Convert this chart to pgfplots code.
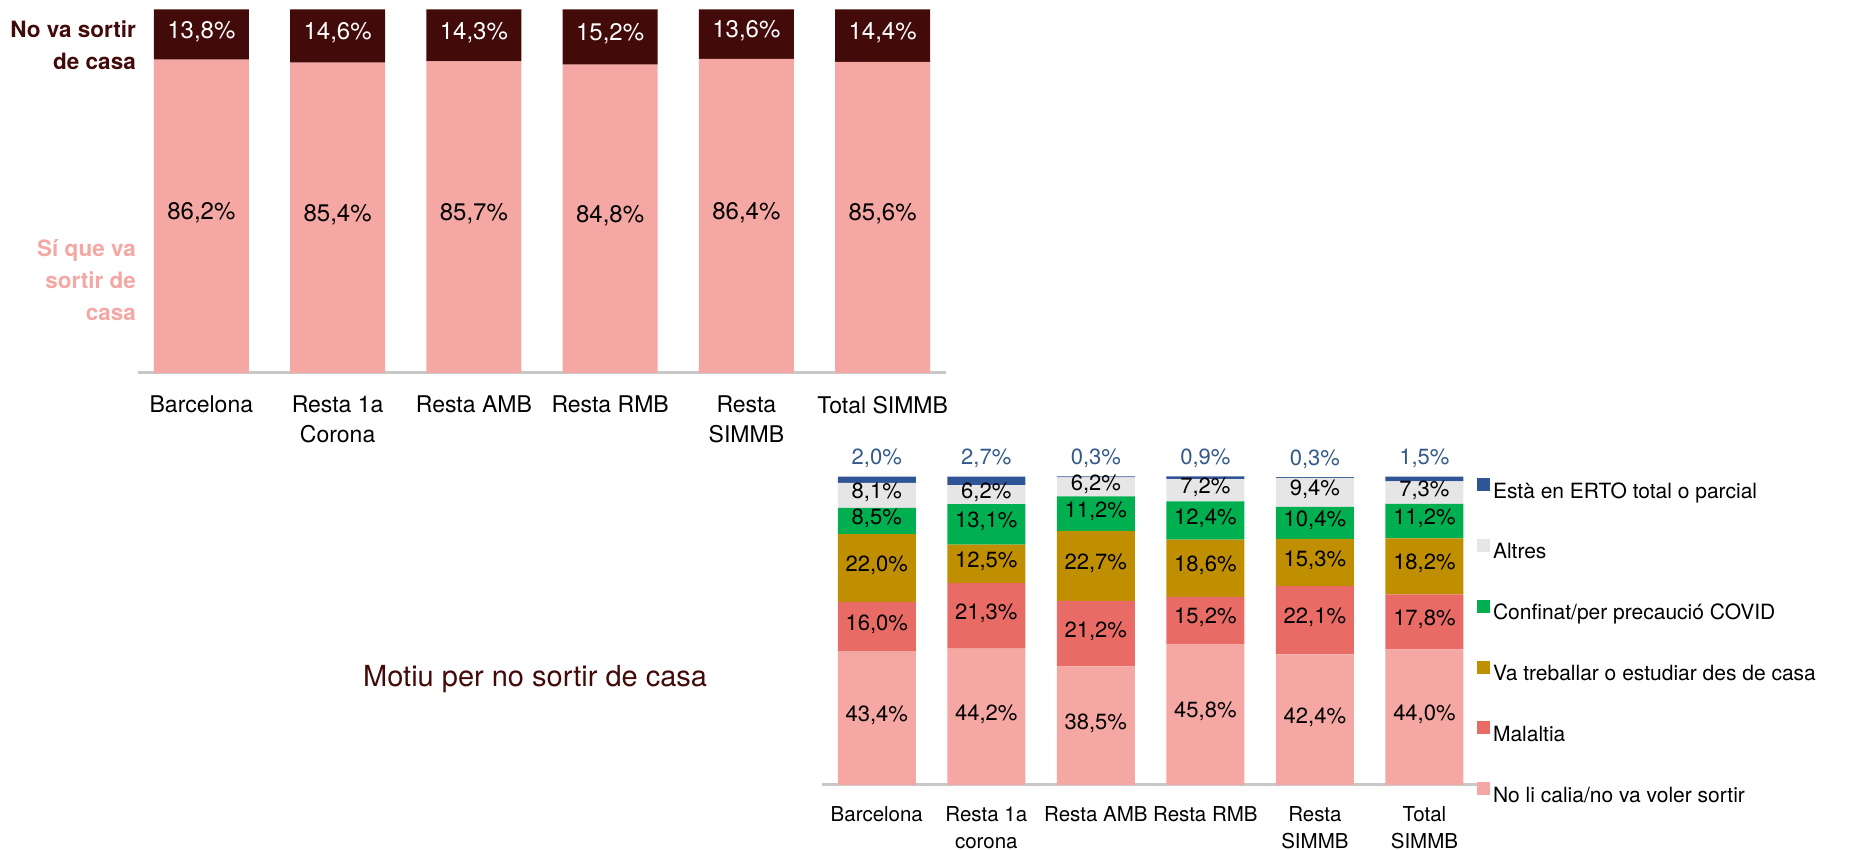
\documentclass[border=0pt]{standalone}
\usepackage{fontspec}
\setmainfont{TeX Gyre Heros}
\usepackage{pgfplots}
\pgfplotsset{compat=1.18}
\usepackage{pgfplotstable}
\definecolor{cMaroon}{HTML}{420B09}
\definecolor{cPink}{HTML}{F4A7A3}
\definecolor{cRed}{HTML}{E86C65}
\definecolor{cGold}{HTML}{BF8F00}
\definecolor{cGreen}{HTML}{00B050}
\definecolor{cGrey}{HTML}{E7E6E6}
\definecolor{cBlue}{HTML}{2F5597}
\definecolor{cBlueTxt}{HTML}{34598A}
\definecolor{cAxis}{HTML}{C8C8C8}

\pgfplotstableread{
x si no
0 86.2 13.8
1 85.4 14.6
2 85.7 14.3
3 84.8 15.2
4 86.4 13.6
5 85.6 14.4
}\topdata

\pgfplotstableread{
x calia mal treb conf altres erto
0 43.4 16.0 22.0 8.5 8.1 2.0
1 44.2 21.3 12.5 13.1 6.2 2.7
2 38.5 21.2 22.7 11.2 6.2 0.3
3 45.8 15.2 18.6 12.4 7.2 0.9
4 42.4 22.1 15.3 10.4 9.4 0.3
5 44.0 17.8 18.2 11.2 7.3 1.5
}\botdata

\newcommand{\pct}{\pgfmathprintnumber[fixed,fixed zerofill,precision=1,use comma,assume math mode=true]{\pgfplotspointmeta}\%}

\pgfplotsset{
  mystack/.style={
    ybar stacked, scale only axis, ymin=0, ymax=100,
    axis x line=bottom, axis y line=none,
    x axis line style={draw=cAxis, line width=3pt, -},
    xtick={0,...,5}, major tick length=0pt, ytick=\empty,
    clip=false,
    xticklabel style={align=center, inner sep=0pt, anchor=north, text=black},
  },
  mylabels/.style={
    scale only axis, ymin=0, ymax=100, hide axis, clip=false,
    nodes near coords=\pct,
    every node near coord/.append style={anchor=center, inner sep=0pt, text depth=0pt, text height=0.71em},
  },
  lab/.style={draw=none, mark=none, point meta=\thisrow{#1}},
}

\begin{document}
\begin{tikzpicture}
\path[use as bounding box] (0pt,0pt) rectangle (1854pt,850pt);

% ---------- top chart ----------
\begin{axis}[mystack,
  at={(138pt,477pt)}, anchor=south west,
  width=808pt, height=363.5pt,
  xmin=-0.465, xmax=5.465,
  bar width=95pt,
  xticklabels={Barcelona,{Resta 1a\\Corona},Resta AMB,Resta RMB,{Resta\\SIMMB},Total SIMMB},
  xticklabel style={font=\fontsize{23}{30}\selectfont, yshift=-23pt},
]
\addplot[fill=cPink, draw=none] table[x=x,y=si]{\topdata};
\addplot[fill=cMaroon, draw=none] table[x=x,y=no]{\topdata};
\end{axis}
\begin{axis}[mylabels,
  at={(138pt,477pt)}, anchor=south west,
  width=808pt, height=363.5pt,
  xmin=-0.465, xmax=5.465,
  every node near coord/.append style={font=\fontsize{24}{28}\selectfont},
]
\addplot[lab=si, nodes near coords style={text=black}] table[x=x,y expr=\thisrow{si}/2]{\topdata};
\addplot[lab=no, nodes near coords style={text=white}] table[x=x,y expr=\thisrow{si}+\thisrow{no}/2]{\topdata};
\end{axis}

% ---------- bottom chart ----------
\begin{axis}[mystack,
  at={(822pt,65pt)}, anchor=south west,
  width=655pt, height=308.3pt,
  xmin=-0.5, xmax=5.48,
  bar width=78pt,
  xticklabels={Barcelona,{Resta 1a\\corona},Resta AMB,Resta RMB,{Resta\\SIMMB},{Total\\SIMMB}},
  xticklabel style={font=\fontsize{20.5}{27}\selectfont, yshift=-21pt},
  every axis plot/.append style={legend image code/.code={\draw[#1,/tikz/.cd,draw=none] (0pt,1.3pt) rectangle (13pt,14.3pt);}},
  legend style={at={(rel axis cs:1,0.995)}, anchor=north west, draw=none, fill=none,
    inner sep=0pt, outer sep=0pt, row sep=36pt, column sep=3pt,
    font=\fontsize{21}{25}\selectfont,
    nodes={inner sep=0pt, text height=16pt, text depth=5pt}},
  legend cell align=left,
  reverse legend,
]
\addplot[fill=cPink, draw=none] table[x=x,y=calia]{\botdata};
\addlegendentry{No li calia/no va voler sortir}
\addplot[fill=cRed, draw=none] table[x=x,y=mal]{\botdata};
\addlegendentry{Malaltia}
\addplot[fill=cGold, draw=none] table[x=x,y=treb]{\botdata};
\addlegendentry{Va treballar o estudiar des de casa}
\addplot[fill=cGreen, draw=none] table[x=x,y=conf]{\botdata};
\addlegendentry{Confinat/per precaució COVID}
\addplot[fill=cGrey, draw=none] table[x=x,y=altres]{\botdata};
\addlegendentry{Altres}
\addplot[fill=cBlue, draw=none] table[x=x,y=erto]{\botdata};
\addlegendentry{Està en ERTO total o parcial}
\end{axis}
\begin{axis}[mylabels,
  at={(822pt,65pt)}, anchor=south west,
  width=655pt, height=308.3pt,
  xmin=-0.5, xmax=5.48,
  every node near coord/.append style={font=\fontsize{22}{26}\selectfont, text=black},
]
\addplot[lab=calia] table[x=x,y expr=\thisrow{calia}/2]{\botdata};
\addplot[lab=mal] table[x=x,y expr=\thisrow{calia}+\thisrow{mal}/2]{\botdata};
\addplot[lab=treb] table[x=x,y expr=\thisrow{calia}+\thisrow{mal}+\thisrow{treb}/2]{\botdata};
\addplot[lab=conf] table[x=x,y expr=\thisrow{calia}+\thisrow{mal}+\thisrow{treb}+\thisrow{conf}/2]{\botdata};
\addplot[lab=altres] table[x=x,y expr=\thisrow{calia}+\thisrow{mal}+\thisrow{treb}+\thisrow{conf}+\thisrow{altres}/2]{\botdata};
\addplot[lab=erto, nodes near coords style={text=cBlueTxt, anchor=base, yshift=12pt}] table[x=x,y expr=\thisrow{calia}+\thisrow{mal}+\thisrow{treb}+\thisrow{conf}+\thisrow{altres}+\thisrow{erto}]{\botdata};
\end{axis}

% ---------- free texts ----------
\node[anchor=east, align=right, inner sep=0pt, text=cMaroon, font=\bfseries\fontsize{22.5}{32}\selectfont] at (136pt,804.5pt) {No va sortir\\de casa};
\node[anchor=east, align=right, inner sep=0pt, text=cPink, font=\bfseries\fontsize{22.5}{32}\selectfont] at (136pt,570pt) {Sí que va\\sortir de\\casa};
\node[anchor=base west, inner sep=0pt, text=cMaroon, font=\fontsize{29}{34}\selectfont] at (363pt,163pt) {Motiu per no sortir de casa};
\end{tikzpicture}
\end{document}
